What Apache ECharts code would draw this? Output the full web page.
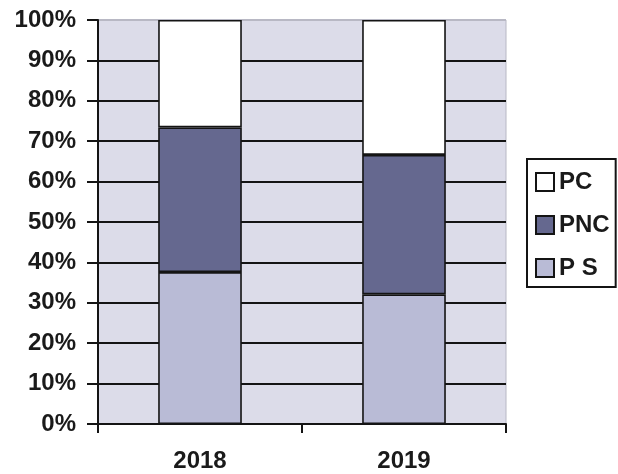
<!DOCTYPE html>
<html>
<head>
<meta charset="utf-8">
<script src="https://cdn.jsdelivr.net/npm/echarts@6/dist/echarts.min.js"></script>
<style>
html,body{margin:0;padding:0;background:#fff;}
#c{width:618px;height:474px;}
</style>
</head>
<body>
<div id="c"></div>
<script>
var categories = ['2018', '2019'];
var seriesNames = ['P S', 'PNC', 'PC'];
var psValues = [37.6, 32.1];
var pncValues = [35.8, 34.5];
var pcValues = [26.6, 33.4];
var yTicks = [0, 10, 20, 30, 40, 50, 60, 70, 80, 90, 100];

var colors = { 'P S': '#b9bbd6', 'PNC': '#65688f', 'PC': '#ffffff' };
var gridColors = yTicks.map(function (t) { return t === 100 ? '#b8b8c4' : '#141414'; });

var chart = echarts.init(document.getElementById('c'), null, { renderer: 'canvas' });
function mk(name, data) {
  return {
    name: name, type: 'bar', stack: 'total', data: data,
    barWidth: '41%',
    itemStyle: { color: colors[name], borderColor: '#141414', borderWidth: 1.6 },
    emphasis: { disabled: true }
  };
}
chart.setOption({
  animation: false,
  backgroundColor: '#ffffff',
  grid: {
    left: 98, right: 112, top: 20, bottom: 50,
    show: true, backgroundColor: '#dcdce9', borderColor: '#b8b8c4', borderWidth: 1
  },
  legend: {
    orient: 'vertical', left: 527, top: 159,
    data: ['PC', 'PNC', 'P S'],
    icon: 'rect', itemWidth: 18, itemHeight: 18, itemGap: 19,
    padding: [11, 6, 7, 8],
    borderColor: '#141414', borderWidth: 2,
    textStyle: { fontFamily: 'Liberation Sans, Arial, sans-serif', fontWeight: 'bold', fontSize: 24, color: '#1a1a1a' },
    selectedMode: false
  },
  xAxis: {
    type: 'category', data: categories,
    axisLine: { lineStyle: { color: '#141414', width: 2 } },
    axisTick: { show: true, length: 9, lineStyle: { color: '#141414', width: 2 } },
    axisLabel: { margin: 25, fontFamily: 'Liberation Sans, Arial, sans-serif', fontWeight: 'bold', fontSize: 24, color: '#1a1a1a' }
  },
  yAxis: {
    type: 'value', min: 0, max: 100, interval: 10,
    axisLine: { show: true, lineStyle: { color: '#141414', width: 2 } },
    axisTick: { show: true, length: 11, lineStyle: { color: '#141414', width: 2 } },
    axisLabel: { margin: 22, formatter: '{value}%', fontFamily: 'Liberation Sans, Arial, sans-serif', fontWeight: 'bold', fontSize: 24, color: '#1a1a1a' },
    splitLine: { show: true, lineStyle: { color: gridColors, width: 2 } }
  },
  series: [mk('P S', psValues), mk('PNC', pncValues), mk('PC', pcValues)]
});
</script>
</body>
</html>
